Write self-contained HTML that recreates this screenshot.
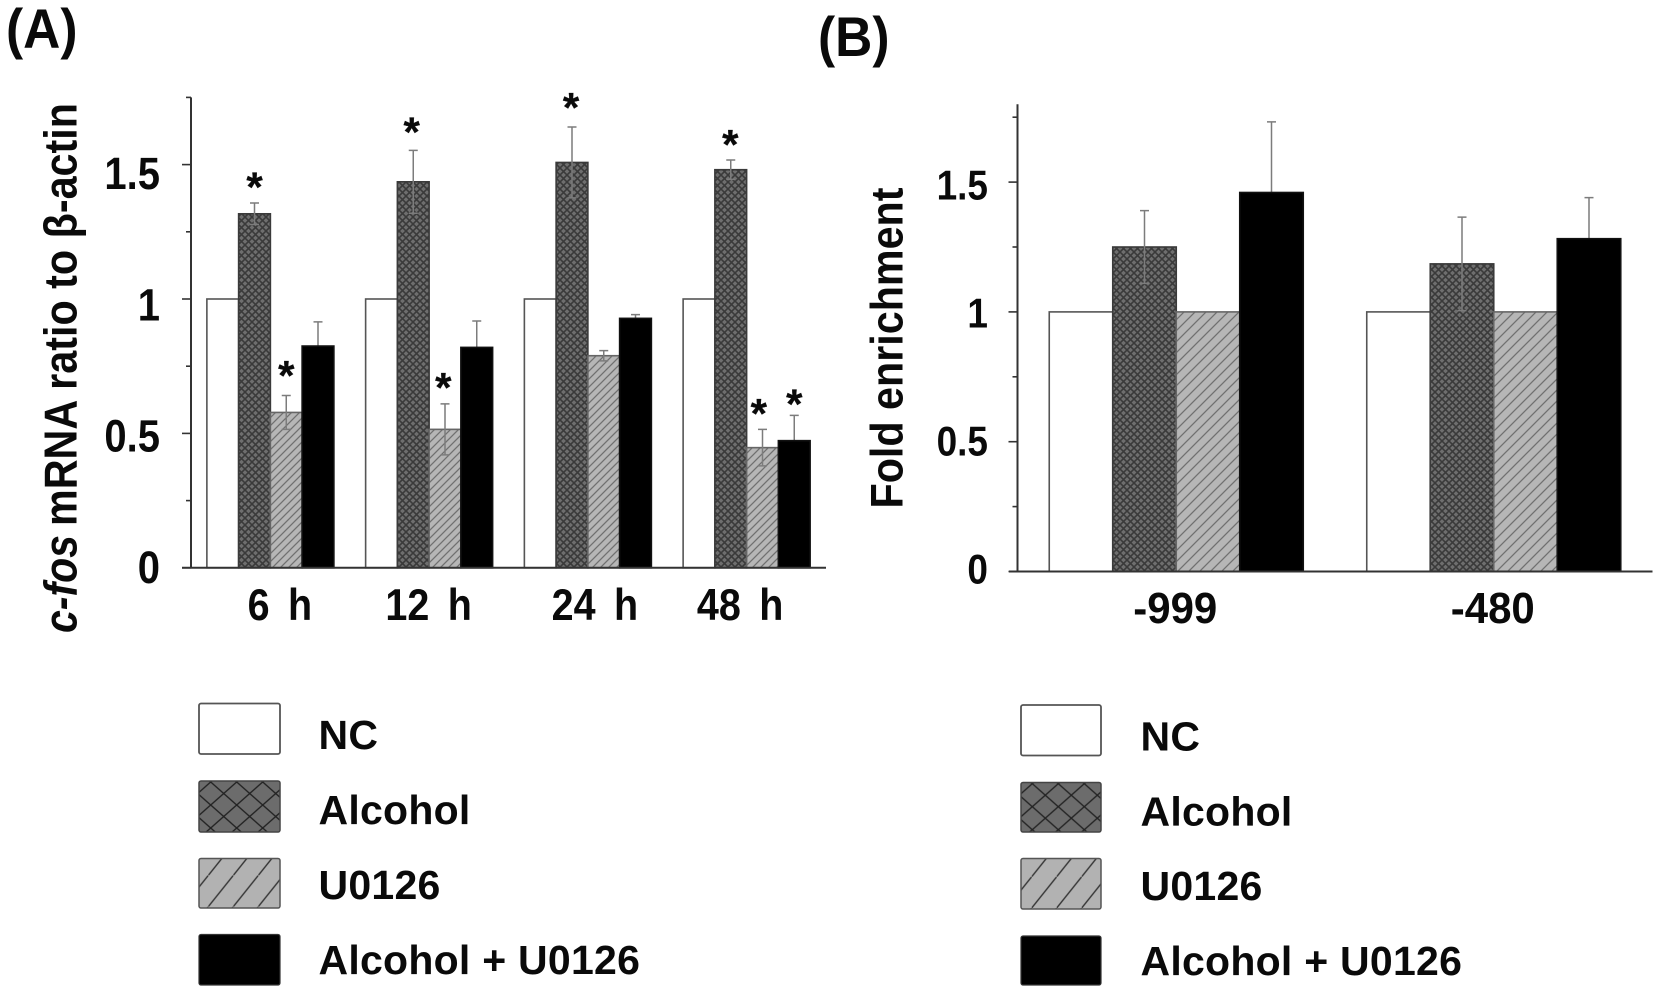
<!DOCTYPE html>
<html lang="en">
<head>
<meta charset="utf-8">
<title>c-fos mRNA and fold enrichment charts</title>
<style>
html,body{margin:0;padding:0;background:#fff;}
svg{display:block;filter:blur(0.35px);}
text{font-family:"Liberation Sans",sans-serif;font-weight:bold;fill:#0a0a0a;}
</style>
</head>
<body>
<svg id="figure" xmlns="http://www.w3.org/2000/svg" width="1654" height="1003" viewBox="0 0 1654 1003">
<defs>
  <pattern id="crossA" patternUnits="userSpaceOnUse" width="7" height="7">
    <rect width="7" height="7" fill="#6e6e6e"/>
    <path d="M0 0L7 7M7 0L0 7" stroke="#3a3a3a" stroke-width="1.6"/>
  </pattern>
  <pattern id="hatchA" patternUnits="userSpaceOnUse" width="8" height="8">
    <rect width="8" height="8" fill="#b6b6b6"/>
    <path d="M-1 1L1 -1M0 8L8 0M7 9L9 7" stroke="#707070" stroke-width="1.3"/>
  </pattern>
  <pattern id="hatchB" patternUnits="userSpaceOnUse" width="11" height="11">
    <rect width="11" height="11" fill="#b6b6b6"/>
    <path d="M-1 1L1 -1M0 11L11 0M10 12L12 10" stroke="#707070" stroke-width="1.3"/>
  </pattern>
  <pattern id="legendCrossA" patternUnits="userSpaceOnUse" x="236.7" y="805" width="26" height="23">
    <rect width="26" height="23" fill="#6c6c6c"/>
    <path d="M0 0L26 23M26 0L0 23" stroke="#222" stroke-width="1.4"/>
  </pattern>
  <pattern id="legendCrossB" patternUnits="userSpaceOnUse" x="1058.3" y="806.7" width="26" height="23">
    <rect width="26" height="23" fill="#6c6c6c"/>
    <path d="M0 0L26 23M26 0L0 23" stroke="#222" stroke-width="1.4"/>
  </pattern>
  <pattern id="legendHatchA" patternUnits="userSpaceOnUse" x="208.3" y="875.4" width="25" height="31.25">
    <rect width="25" height="31.25" fill="#b2b2b2"/>
    <path d="M0 31.25L25 0" stroke="#333" stroke-width="1.4"/>
  </pattern>
  <pattern id="legendHatchB" patternUnits="userSpaceOnUse" x="1031.7" y="876.75" width="25" height="31.25">
    <rect width="25" height="31.25" fill="#b2b2b2"/>
    <path d="M0 31.25L25 0" stroke="#333" stroke-width="1.4"/>
  </pattern>
</defs>

<text transform="translate(6,48) scale(1,1.08)" font-size="51.5">(A)</text>
<text transform="translate(818,56) scale(1,1.08)" font-size="51.5">(B)</text>

<text transform="translate(76.5,633) rotate(-90) scale(1,1.13)" font-size="41" font-style="italic">c-fos</text>
<text transform="translate(76.5,526) rotate(-90) scale(1,1.13)" font-size="41" textLength="423" lengthAdjust="spacingAndGlyphs">mRNA ratio to β-actin</text>
<text transform="translate(902.4,508.5) rotate(-90) scale(1,1.1)" font-size="41" textLength="321" lengthAdjust="spacingAndGlyphs">Fold enrichment</text>

<g letter-spacing="0.25">
  <g>
    <rect x="199" y="703.5" width="81" height="50.5" rx="2" fill="#fff" stroke="#555" stroke-width="1.8"/>
    <text x="318.5" y="749" font-size="41">NC</text>
  </g>
  <g>
    <rect x="199" y="781" width="81" height="51" rx="2" fill="url(#legendCrossA)" stroke="#444" stroke-width="1.5"/>
    <text x="318.5" y="824" font-size="41">Alcohol</text>
  </g>
  <g>
    <rect x="199" y="858.5" width="81" height="49.5" rx="2" fill="url(#legendHatchA)" stroke="#555" stroke-width="1.5"/>
    <text x="318.5" y="899" font-size="41">U0126</text>
  </g>
  <g>
    <rect x="199" y="934.5" width="81" height="50.5" rx="2" fill="#000" stroke="#333" stroke-width="1.2"/>
    <text x="318.5" y="974" font-size="41">Alcohol + U0126</text>
  </g>
</g>

<g letter-spacing="0.25">
  <g>
    <rect x="1021" y="705" width="80" height="50.5" rx="2" fill="#fff" stroke="#555" stroke-width="1.8"/>
    <text x="1140.5" y="750.5" font-size="41">NC</text>
  </g>
  <g>
    <rect x="1021" y="782.5" width="80" height="49.5" rx="2" fill="url(#legendCrossB)" stroke="#444" stroke-width="1.5"/>
    <text x="1140.5" y="825.5" font-size="41">Alcohol</text>
  </g>
  <g>
    <rect x="1021" y="858.5" width="80" height="50.5" rx="2" fill="url(#legendHatchB)" stroke="#555" stroke-width="1.5"/>
    <text x="1140.5" y="900" font-size="41">U0126</text>
  </g>
  <g>
    <rect x="1021" y="936" width="80" height="49" rx="2" fill="#000" stroke="#333" stroke-width="1.2"/>
    <text x="1140.5" y="975" font-size="41">Alcohol + U0126</text>
  </g>
</g>
</svg>

<script>
// Panel A data
const categoriesA = ['6 h', '12 h', '24 h', '48 h'];
const ncA = [1, 1, 1, 1];
const alcoholA = [1.317, 1.436, 1.508, 1.481];
const u0126A = [0.578, 0.515, 0.789, 0.447];
const comboA = [0.825, 0.82, 0.928, 0.473];
const alcoholErrA = [0.04, 0.117, 0.132, 0.036];
const u0126ErrA = [0.063, 0.095, 0.019, 0.068];
const comboErrA = [0.09, 0.098, 0.014, 0.094];
const alcoholStarA = [1.441, 1.646, 1.736, 1.599];
const u0126StarA = [0.739, 0.695, null, 0.598];
const comboStarA = [null, null, null, 0.633];
const tickValuesA = [0, 0.25, 0.5, 0.75, 1, 1.25, 1.5, 1.75];
const tickLabelsA = ['0', '0.5', '1', '1.5'];

// Panel B data
const categoriesB = ['-999', '-480'];
const ncB = [1, 1];
const alcoholB = [1.25, 1.185];
const u0126B = [1, 1];
const comboB = [1.46, 1.282];
const alcoholErrB = [0.14, 0.18];
const comboErrB = [0.272, 0.158];
const tickValuesB = [0, 0.25, 0.5, 0.75, 1, 1.25, 1.5, 1.75];
const tickLabelsB = ['0', '0.5', '1', '1.5'];

const seriesKeys = ['nc', 'alcohol', 'u0126', 'alcohol-u0126'];

const SVG_NS = 'http://www.w3.org/2000/svg';
const root = document.getElementById('figure');

function make(tag, attrs, parent) {
  const node = document.createElementNS(SVG_NS, tag);
  for (const k in attrs) node.setAttribute(k, attrs[k]);
  parent.appendChild(node);
  return node;
}

function drawPanel(p) {
  const group = make('g', {}, root);
  
  

  const yScale = function (v) { return p.baseY - v * p.unit; };
  const labelY = function (v) { return p.labelBase - v * p.labelUnit; };
  const groupW = (p.plotRight - p.axisX) / p.categories.length;
  const xScale = function (i, s) { return p.axisX + groupW * (i + 0.1 + 0.2 * s); };
  const barW = groupW * 0.2;

  function drawBars(s) {
    p.series[s].values.forEach(function (v, i) {
      const bar = make('rect', {
        x: xScale(i, s), y: yScale(v), width: barW, height: p.baseY - yScale(v),
        fill: p.series[s].fill, stroke: p.series[s].stroke, 'stroke-width': 1.6
      }, group);
      
      
    });
  }

  function drawErrors(s) {
    const errs = p.series[s].err;
    if (!errs) return;
    errs.forEach(function (e, i) {
      const cx = xScale(i, s) + barW / 2;
      const v = p.series[s].values[i];
      const path = 'M' + cx + ' ' + yScale(v + e) + 'L' + cx + ' ' + yScale(v - e) +
        'M' + (cx - 4.5) + ' ' + yScale(v + e) + 'L' + (cx + 4.5) + ' ' + yScale(v + e) +
        'M' + (cx - 4.5) + ' ' + yScale(v - e) + 'L' + (cx + 4.5) + ' ' + yScale(v - e);
      const bar = make('path', { d: path, stroke: '#7c7c7c', 'stroke-width': 1.5, fill: 'none' }, group);
      
      
    });
  }

  [0, 1, 2].forEach(drawBars);
  [1, 2, 3].forEach(drawErrors);
  drawBars(3);

  // significance stars
  p.series.forEach(function (ser, s) {
    if (!ser.stars) return;
    ser.stars.forEach(function (level, i) {
      if (level === null) return;
      const star = make('text', {
        x: xScale(i, s) + barW / 2 + ser.starDx[i], y: yScale(level) + 21,
        'font-size': 42, 'text-anchor': 'middle', 'font-weight': 'normal',
        stroke: '#0a0a0a', 'stroke-width': 0.3
      }, group);
      star.textContent = '*';
      
      
    });
  });

  // axes
  const yAxis = make('line', {
    x1: p.axisX, x2: p.axisX, y1: yScale(p.axisMax), y2: p.baseY, stroke: '#333', 'stroke-width': 2
  }, group);
  
  

  const xAxis = make('line', {
    x1: p.axisLeft, x2: p.plotRight, y1: p.baseY, y2: p.baseY, stroke: '#333', 'stroke-width': 2
  }, group);
  
  

  p.ticks.forEach(function (v) {
    const major = Number.isInteger(v * 2);
    const tick = make('line', {
      x1: p.axisX - (major ? 9 : 5), x2: p.axisX, y1: yScale(v), y2: yScale(v),
      stroke: '#333', 'stroke-width': 1.6
    }, group);
    
    
  });

  p.tickLabels.forEach(function (label) {
    const t = make('text', {
      transform: 'translate(' + p.labelRight + ',' + labelY(Number(label)) + ') scale(1,1.13)',
      'font-size': p.labelSize, 'text-anchor': 'end'
    }, group);
    t.textContent = label;
    
    
  });

  p.categories.forEach(function (label, i) {
    const cx = p.axisX + groupW * (i + 0.5) + p.catNudge[i];
    const t = make('text', {
      transform: 'translate(' + cx + ',' + p.catBaseline + ') scale(1,' + p.catScale + ')',
      'font-size': p.catSize, 'text-anchor': 'middle', 'word-spacing': p.catWordGap
    }, group);
    t.textContent = label;
    
    
  });
}

drawPanel({
  id: 'panel-a', categories: categoriesA, ticks: tickValuesA, tickLabels: tickLabelsA,
  axisX: 191, axisLeft: 182, plotRight: 826, baseY: 567.8, unit: 268.8, axisMax: 1.75,
  labelBase: 583, labelUnit: 262.7, labelRight: 160, labelSize: 40,
  catNudge: [9.5, -0.5, 7, -6.5], catBaseline: 620, catSize: 39.5, catScale: 1.13, catWordGap: 7.5,
  series: [
    { values: ncA, fill: '#fff', stroke: '#555' },
    { values: alcoholA, err: alcoholErrA, stars: alcoholStarA, starDx: [0, -1.6, -1, -0.5], fill: 'url(#crossA)', stroke: '#3a3a3a' },
    { values: u0126A, err: u0126ErrA, stars: u0126StarA, starDx: [0, -1.7, 0, -3.7], fill: 'url(#hatchA)', stroke: '#666' },
    { values: comboA, err: comboErrA, stars: comboStarA, starDx: [0, 0, 0, 0], fill: '#000', stroke: '#111' }
  ]
});

drawPanel({
  id: 'panel-b', categories: categoriesB, ticks: tickValuesB, tickLabels: tickLabelsB,
  axisX: 1017.5, axisLeft: 1009, plotRight: 1652.5, baseY: 571.5, unit: 259.6, axisMax: 1.8,
  labelBase: 583.5, labelUnit: 256, labelRight: 988, labelSize: 37,
  catNudge: [-1, -1], catBaseline: 623, catSize: 42, catScale: 1.04, catWordGap: 0,
  series: [
    { values: ncB, fill: '#fff', stroke: '#555' },
    { values: alcoholB, err: alcoholErrB, fill: 'url(#crossA)', stroke: '#3a3a3a' },
    { values: u0126B, fill: 'url(#hatchB)', stroke: '#666' },
    { values: comboB, err: comboErrB, fill: '#000', stroke: '#111' }
  ]
});
</script>
</body>
</html>
